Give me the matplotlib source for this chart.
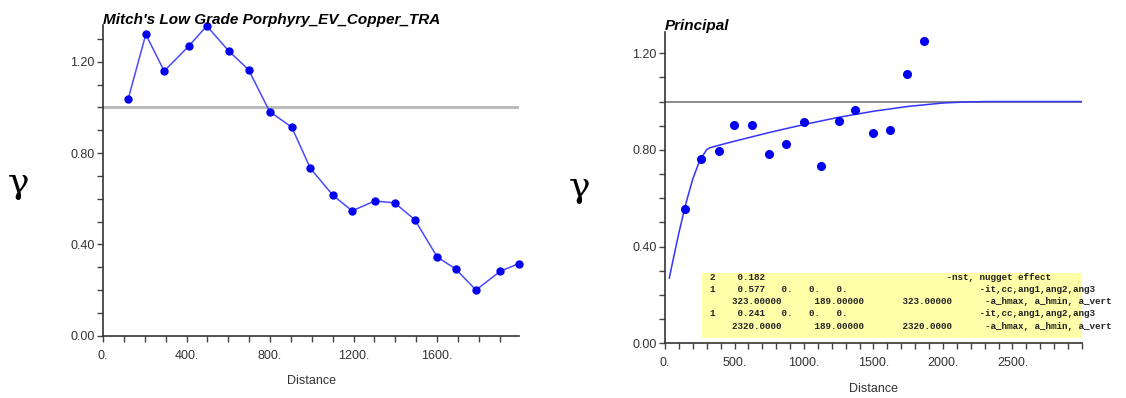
import numpy as np
import matplotlib
matplotlib.use('Agg')
import matplotlib.pyplot as plt
from matplotlib.ticker import MultipleLocator, FixedLocator

plt.rcParams['font.family'] = ['Liberation Sans', 'DejaVu Sans']

# left: experimental variogram
lag1 = [120, 205, 293, 411, 497, 601, 697, 798, 904, 993, 1101, 1193, 1301, 1396,
        1493, 1601, 1688, 1786, 1902, 1991]
gam1 = [1.035, 1.32, 1.159, 1.269, 1.357, 1.248, 1.165, 0.982, 0.913, 0.733, 0.615,
        0.547, 0.590, 0.582, 0.508, 0.344, 0.293, 0.200, 0.282, 0.316]

# right: experimental points and fitted model curve
lag2 = [142, 259, 389, 497, 624, 751, 873, 997, 1122, 1251, 1368, 1497, 1619, 1743, 1865]
gam2 = [0.554, 0.763, 0.794, 0.905, 0.903, 0.783, 0.823, 0.917, 0.734, 0.921, 0.964,
        0.870, 0.883, 1.113, 1.252]
mod_h = [31, 50, 100, 150, 200, 250, 300, 323, 400, 500, 750, 1000, 1250, 1500, 1750,
         2000, 2150, 2320, 3000]
mod_g = [0.270, 0.323, 0.457, 0.578, 0.680, 0.757, 0.801, 0.809, 0.821, 0.836, 0.872,
         0.905, 0.935, 0.960, 0.980, 0.994, 0.998, 1.0, 1.0]

model_lines = [
    ('2', '0.182', '', '', '', '-nst, nugget effect'),
    ('1', '0.577', '0.', '0.', '0.', '-it,cc,ang1,ang2,ang3'),
    ('', '323.00000', '189.00000', '323.00000', '', '-a_hmax, a_hmin, a_vert'),
    ('1', '0.241', '0.', '0.', '0.', '-it,cc,ang1,ang2,ang3'),
    ('', '2320.0000', '189.00000', '2320.0000', '', '-a_hmax, a_hmin, a_vert'),
]

W, H = 1126, 398
fig = plt.figure(figsize=(W / 100, H / 100), dpi=100)

def style(ax, xmax, ymax, xmaj, xlabels):
    for s in ['top', 'right']:
        ax.spines[s].set_visible(False)
    for s in ['left', 'bottom']:
        ax.spines[s].set_color('#333333')
        ax.spines[s].set_linewidth(1.2)
    ax.set_xlim(0, xmax)
    ax.set_ylim(0, ymax)
    ax.xaxis.set_major_locator(FixedLocator(xmaj))
    ax.set_xticklabels(xlabels)
    ax.xaxis.set_minor_locator(MultipleLocator(100))
    ax.yaxis.set_major_locator(FixedLocator([0, 0.4, 0.8, 1.2]))
    ax.set_yticklabels(['0.00', '0.40', '0.80', '1.20'])
    ax.yaxis.set_minor_locator(MultipleLocator(0.1))
    ax.tick_params(which='both', direction='out', length=4, width=1, color='#444444',
                   labelsize=9, labelcolor='#333333')
    ax.tick_params(axis='x', pad=6)
    ax.tick_params(axis='y', pad=2)
    ax.set_xlabel('Distance', fontsize=9, color='#333333', labelpad=10)

# left panel
ax1 = fig.add_axes([103 / W, 1 - 335.7 / H, 416 / W, 310.7 / H])
ax1.axhline(1.0, color='#bbbbbb', lw=2.2, zorder=1)
ax1.plot(lag1, gam1, color='#4a4aff', lw=1.1, zorder=2)
ax1.plot(lag1, gam1, 'o', color='#0000ee', ms=5, zorder=3, clip_on=False)
style(ax1, 1992, 1.361, [0, 400, 800, 1200, 1600], ['0.', '400.', '800.', '1200.', '1600.'])
ax1.set_title("Mitch's Low Grade Porphyry_EV_Copper_TRA", fontsize=11, fontweight='bold',
              fontstyle='italic', loc='left', y=1.0, pad=1)
fig.text(0.007, 0.54, 'γ', fontsize=26, family=['DejaVu Serif'], va='center')

# right panel
ax2 = fig.add_axes([665 / W, 1 - 343.3 / H, 417 / W, 311.6 / H])
ax2.axhline(1.0, color='#777777', lw=1.2, zorder=1)
ax2.plot(mod_h, mod_g, color='#3333ff', lw=1.1, zorder=2)
ax2.plot(lag2, gam2, 'o', color='#0000ee', ms=5.5, zorder=3)
style(ax2, 3000, 1.289, [0, 500, 1000, 1500, 2000, 2500],
      ['0.', '500.', '1000.', '1500.', '2000.', '2500.'])
ax2.set_title('Principal', fontsize=11, fontweight='bold', fontstyle='italic',
              loc='left', y=1.0, pad=1)
fig.text(0.505, 0.53, 'γ', fontsize=26, family=['DejaVu Serif'], va='center')

# model parameter box
fig.patches.append(plt.Rectangle((701.5 / W, 1 - 337.7 / H), (1082 - 701.5) / W,
                                 (337.7 - 272.7) / H, transform=fig.transFigure,
                                 facecolor='#ffffaa', edgecolor='none', zorder=5))
cols = [0, 5, 13, 18, 23]
for i, row in enumerate(model_lines):
    y = 1 - (277.7 + 12.1 * i) / H
    if row[0] == '':
        parts = [(4, row[1]), (19, row[2]), (35, row[3])]
        tail = 50
    else:
        parts = [(c, v) for c, v in zip(cols, row[:5])]
        tail = 43 if i == 0 else 49
    s = ''
    for c, v in parts:
        s = s.ljust(c) + v
    s = s.ljust(tail) + row[5]
    fig.text(709.5 / W, y, s, family=['Liberation Mono'], fontsize=6.7,
             fontweight='bold', color='#222222', va='center', zorder=6)

fig.savefig('out.png', dpi=100)
